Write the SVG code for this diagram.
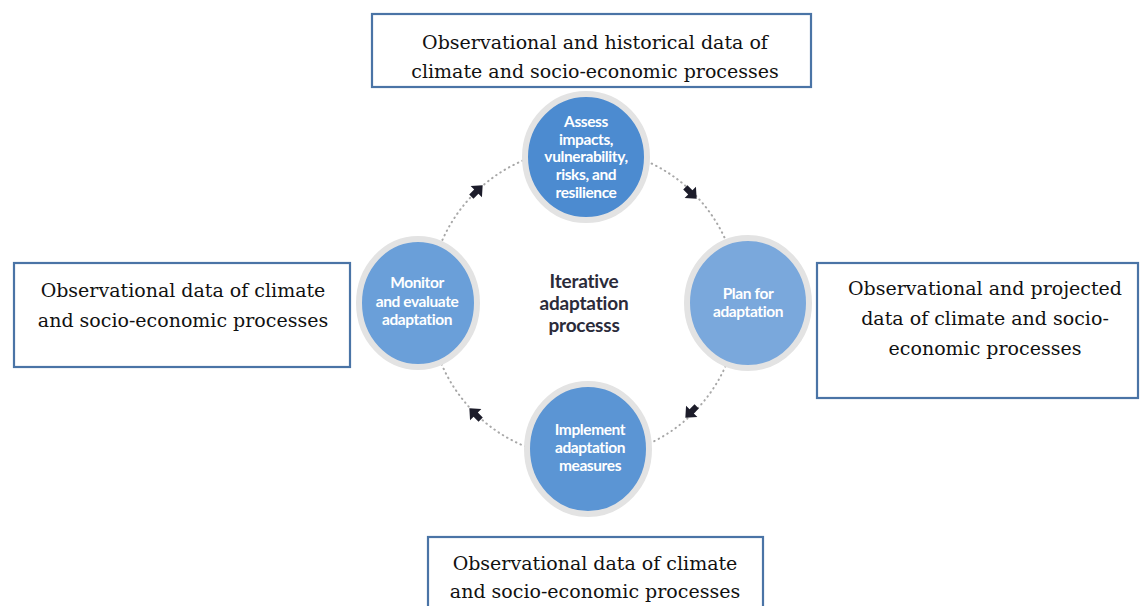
<svg xmlns="http://www.w3.org/2000/svg" width="1140" height="606" viewBox="0 0 1140 606">
  <style>
    .box { fill: #ffffff; stroke: #4a74a6; stroke-width: 2.2; }
    .btxt { font-family: "DejaVu Serif", "Liberation Serif", serif; font-size: 19px; fill: #111111; text-anchor: middle; }
    .ring { stroke: #e3e3e3; stroke-width: 6; }
    .ctxt { font-family: Lato, "Open Sans", sans-serif; font-weight: 700; font-size: 15.5px; fill: #ffffff; text-anchor: middle; letter-spacing: -0.4px; }
    .mid { font-family: Lato, "Open Sans", sans-serif; font-weight: 700; font-size: 19px; fill: #2b2b3a; text-anchor: middle; letter-spacing: -0.2px; }
    .dot { fill: none; stroke: #a8a8a8; stroke-width: 2; stroke-dasharray: 0.5 4.5; stroke-linecap: round; }
    .arr { fill: #1c1c2a; }
  </style>
  <defs>
    <path id="arrowhead" d="M-8,-3 L-1,-3 L-1,-8 L8,0 L-1,8 L-1,3 L-8,3 Z"/>
  </defs>
  <rect width="1140" height="606" fill="#ffffff"/>

  <g id="connectors">
    <path class="dot" d="M584,148 A155,155 0 0 1 739,303"/>
    <path class="dot" d="M739,303 A155,155 0 0 1 584,458"/>
    <path class="dot" d="M584,458 A155,155 0 0 1 429,303"/>
    <path class="dot" d="M429,303 A155,155 0 0 1 584,148"/>
    <use href="#arrowhead" class="arr" transform="translate(691,193) rotate(45)"/>
    <use href="#arrowhead" class="arr" transform="translate(691,412) rotate(135)"/>
    <use href="#arrowhead" class="arr" transform="translate(475,414) rotate(225)"/>
    <use href="#arrowhead" class="arr" transform="translate(477,191) rotate(-45)"/>
  </g>

  <g id="box-top">
    <rect class="box" x="372" y="14" width="439" height="73"/>
    <text class="btxt" x="595" y="49">Observational and historical data of</text>
    <text class="btxt" x="595" y="78">climate and socio-economic processes</text>
  </g>

  <g id="box-left">
    <rect class="box" x="14" y="263" width="336" height="104"/>
    <text class="btxt" x="183" y="297">Observational data of climate</text>
    <text class="btxt" x="183" y="327">and socio-economic processes</text>
  </g>

  <g id="box-right">
    <rect class="box" x="817" y="263" width="321" height="135"/>
    <text class="btxt" x="985" y="295">Observational and projected</text>
    <text class="btxt" x="985" y="325">data of climate and socio-</text>
    <text class="btxt" x="985" y="355">economic processes</text>
  </g>

  <g id="box-bottom">
    <rect class="box" x="428" y="537" width="335" height="80"/>
    <text class="btxt" x="595" y="570">Observational data of climate</text>
    <text class="btxt" x="595" y="598">and socio-economic processes</text>
  </g>

  <g id="node-assess">
    <ellipse class="ring" cx="586" cy="157" rx="61" ry="63" fill="#4c8bd0"/>
    <text class="ctxt" x="586" y="127">Assess</text>
    <text class="ctxt" x="586" y="145">impacts,</text>
    <text class="ctxt" x="586" y="162">vulnerability,</text>
    <text class="ctxt" x="586" y="180">risks, and</text>
    <text class="ctxt" x="586" y="198">resilience</text>
  </g>

  <g id="node-plan">
    <ellipse class="ring" cx="748" cy="303" rx="61" ry="65" fill="#7aa8dc"/>
    <text class="ctxt" x="748" y="299">Plan for</text>
    <text class="ctxt" x="748" y="317">adaptation</text>
  </g>

  <g id="node-implement">
    <ellipse class="ring" cx="588" cy="449" rx="61" ry="65" fill="#5b95d4"/>
    <text class="ctxt" x="590" y="435">Implement</text>
    <text class="ctxt" x="590" y="453">adaptation</text>
    <text class="ctxt" x="590" y="471">measures</text>
  </g>

  <g id="node-monitor">
    <ellipse class="ring" cx="418" cy="303" rx="59" ry="64" fill="#6a9fd9"/>
    <text class="ctxt" x="417" y="288">Monitor</text>
    <text class="ctxt" x="417" y="307">and evaluate</text>
    <text class="ctxt" x="417" y="325">adaptation</text>
  </g>

  <g id="center-label">
    <text class="mid" x="584" y="288">Iterative</text>
    <text class="mid" x="584" y="310">adaptation</text>
    <text class="mid" x="584" y="332">processs</text>
  </g>
</svg>
